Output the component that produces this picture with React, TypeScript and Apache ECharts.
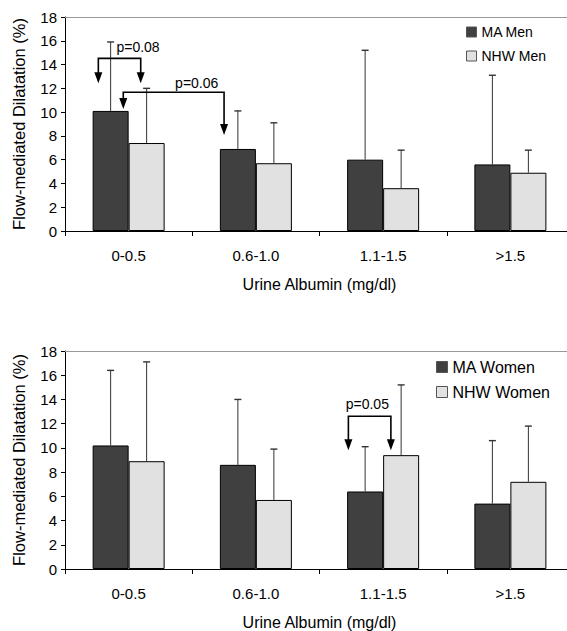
import React, { useEffect, useRef } from "react";
import * as echarts from "echarts";

const categories = ["0-0.5", "0.6-1.0", "1.1-1.5", ">1.5"];

const maMen = [10.1, 6.9, 6.0, 5.6];
const maMenErrTop = [15.9, 10.1, 15.2, 13.1];
const nhwMen = [7.4, 5.7, 3.6, 4.9];
const nhwMenErrTop = [12.0, 9.1, 6.8, 6.8];

const maWomen = [10.2, 8.6, 6.4, 5.4];
const maWomenErrTop = [16.4, 14.0, 10.1, 10.6];
const nhwWomen = [8.9, 5.7, 9.4, 7.2];
const nhwWomenErrTop = [17.1, 9.9, 15.2, 11.8];

// [catLeft, fracLeft, catRight, fracRight, yLine, yTipLeft, yTipRight, labelCat, labelFrac, labelY]
const menBrackets = [
  [0, -0.238, 0, 0.095, 14.52, 12.42, 12.42, 0, 0.074, 15.48],
  [0, -0.042, 1, -0.25, 11.67, 10.26, 8.07, 0, 0.535, 12.45],
];
const menPLabels = ["p=0.08", "p=0.06"];
const womenBrackets = [
  [2, -0.273, 2, 0.061, 12.61, 9.8, 9.8, 2, -0.124, 13.6],
];
const womenPLabels = ["p=0.05"];

const FONT = "'Liberation Sans', Arial, Helvetica, sans-serif";
const BAR_W = 36;
const DARK = "#404040";
const LIGHT = "#e1e1e1";

function errorSeries(name: string, vals: number[], tops: number[], sign: number, gi: number) {
  return {
    type: "custom",
    name: name + "-err",
    xAxisIndex: gi * 2,
    yAxisIndex: gi,
    z: 5,
    silent: true,
    encode: { x: 0, y: [1, 2] },
    data: vals.map((v, i) => [i, v, tops[i]]),
    renderItem: (params: any, api: any) => {
      const c = api.value(0);
      const p0 = api.coord([c, api.value(1)]);
      const p1 = api.coord([c, api.value(2)]);
      const x = p0[0] + (sign * BAR_W) / 2;
      return {
        type: "group",
        children: [
          { type: "line", shape: { x1: x, y1: p0[1], x2: x, y2: p1[1] }, style: { stroke: "#333", lineWidth: 1 } },
          { type: "line", shape: { x1: x - 3.5, y1: p1[1], x2: x + 3.5, y2: p1[1] }, style: { stroke: "#333", lineWidth: 1.4 } },
        ],
      };
    },
  };
}

function bracketSeries(rows: number[][], labels: string[], gi: number) {
  return {
    type: "custom",
    xAxisIndex: gi * 2,
    yAxisIndex: gi,
    z: 6,
    silent: true,
    encode: { x: 0, y: 4 },
    data: rows,
    renderItem: (params: any, api: any) => {
      const band = api.size([1, 0])[0];
      const cl = api.value(0), fl = api.value(1), cr = api.value(2), fr = api.value(3);
      const yl = api.value(4), tl = api.value(5), tr = api.value(6);
      const lc = api.value(7), lf = api.value(8), ly = api.value(9);
      const xl = api.coord([cl, yl])[0] + fl * band;
      const xr = api.coord([cr, yl])[0] + fr * band;
      const yLine = api.coord([cl, yl])[1];
      const yTl = api.coord([cl, tl])[1];
      const yTr = api.coord([cr, tr])[1];
      const lp = api.coord([lc, ly]);
      const H = 11, W = 4;
      return {
        type: "group",
        children: [
          {
            type: "polyline",
            shape: { points: [[xl, yTl - H + 1], [xl, yLine], [xr, yLine], [xr, yTr - H + 1]] },
            style: { stroke: "#000", lineWidth: 1.6, fill: null },
          },
          { type: "polygon", shape: { points: [[xl - W, yTl - H], [xl + W, yTl - H], [xl, yTl]] }, style: { fill: "#000" } },
          { type: "polygon", shape: { points: [[xr - W, yTr - H], [xr + W, yTr - H], [xr, yTr]] }, style: { fill: "#000" } },
          {
            type: "text",
            x: lp[0] + lf * band,
            y: lp[1],
            style: {
              text: labels[params.dataIndex],
              fontFamily: FONT,
              fontSize: 14,
              fill: "#000",
              align: "center",
              verticalAlign: "middle",
            },
          },
        ],
      };
    },
  };
}

function xAxes(gi: number) {
  return [
    {
      type: "category",
      gridIndex: gi,
      data: categories,
      position: "bottom",
      axisLine: { show: true, lineStyle: { color: "#000", width: 1 } },
      axisTick: { show: true, length: 5, lineStyle: { color: "#000" } },
      axisLabel: { color: "#000", fontSize: 15, fontFamily: FONT, margin: 17 },
      name: "Urine Albumin (mg/dl)",
      nameLocation: "middle",
      nameGap: 45,
      nameTextStyle: { color: "#000", fontSize: 16, fontFamily: FONT },
    },
    {
      type: "category",
      gridIndex: gi,
      data: categories,
      position: "top",
      axisLine: { show: true, lineStyle: { color: "#999", width: 1 } },
      axisTick: { show: false },
      axisLabel: { show: false },
    },
  ];
}

function yAxis(gi: number) {
  return {
    type: "value",
    gridIndex: gi,
    min: 0,
    max: 18,
    interval: 2,
    axisLine: { show: true, lineStyle: { color: "#000", width: 1 } },
    axisTick: { show: true, length: 4, lineStyle: { color: "#000" } },
    splitLine: { show: false },
    axisLabel: { color: "#000", fontSize: 15, fontFamily: FONT, margin: 8 },
    name: "Flow-mediated Dilatation (%)",
    nameLocation: "middle",
    nameRotate: 90,
    nameGap: 38,
    nameTextStyle: { color: "#000", fontSize: 16.5, fontFamily: FONT },
  };
}

function barSeries(name: string, vals: number[], color: string, gi: number) {
  return {
    type: "bar",
    name,
    xAxisIndex: gi * 2,
    yAxisIndex: gi,
    data: vals,
    barWidth: BAR_W,
    barGap: "0%",
    itemStyle: { color, borderColor: "#000", borderWidth: 1 },
  };
}

export default function App() {
  const ref = useRef<HTMLDivElement>(null);
  useEffect(() => {
    if (!ref.current) return;
    const chart = echarts.init(ref.current, undefined, { renderer: "svg" });
    chart.setOption({
      animation: false,
      backgroundColor: "#fff",
      textStyle: { fontFamily: FONT },
      grid: [
        { left: 65, top: 17, width: 509, height: 214 },
        { left: 65, top: 351, width: 509, height: 218 },
      ],
      xAxis: [...xAxes(0), ...xAxes(1)],
      yAxis: [yAxis(0), yAxis(1)],
      legend: [
        {
          data: ["MA Men", "NHW Men"],
          orient: "vertical",
          left: 466,
          top: 25,
          padding: 0,
          icon: "rect",
          itemWidth: 10,
          itemHeight: 10,
          itemGap: 10,
          itemStyle: { borderColor: "#555", borderWidth: 1 },
          textStyle: { color: "#000", fontSize: 14, fontFamily: FONT },
        },
        {
          data: ["MA Women", "NHW Women"],
          orient: "vertical",
          left: 436,
          top: 359,
          padding: 0,
          icon: "rect",
          itemWidth: 11,
          itemHeight: 11,
          itemGap: 9,
          itemStyle: { borderColor: "#555", borderWidth: 1 },
          textStyle: { color: "#000", fontSize: 16, fontFamily: FONT },
        },
      ],
      series: [
        barSeries("MA Men", maMen, DARK, 0),
        barSeries("NHW Men", nhwMen, LIGHT, 0),
        errorSeries("MA Men", maMen, maMenErrTop, -1, 0),
        errorSeries("NHW Men", nhwMen, nhwMenErrTop, 1, 0),
        bracketSeries(menBrackets, menPLabels, 0),
        barSeries("MA Women", maWomen, DARK, 1),
        barSeries("NHW Women", nhwWomen, LIGHT, 1),
        errorSeries("MA Women", maWomen, maWomenErrTop, -1, 1),
        errorSeries("NHW Women", nhwWomen, nhwWomenErrTop, 1, 1),
        bracketSeries(womenBrackets, womenPLabels, 1),
      ],
    });
    return () => chart.dispose();
  }, []);
  return (
    <div style={{ position: "absolute", left: 0, top: 0, width: 567, height: 631, overflow: "hidden", background: "#fff" }}>
      <div ref={ref} style={{ width: 580, height: 631 }} />
    </div>
  );
}
